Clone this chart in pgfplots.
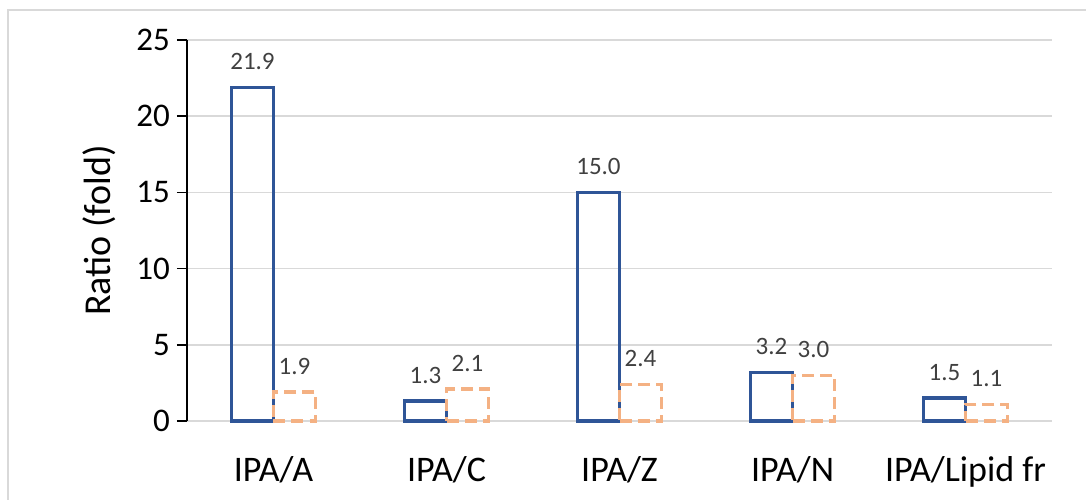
\documentclass[border=0pt]{standalone}
\usepackage{pgfplots}
\pgfplotsset{compat=1.18}
\usepackage{fontspec}
\setmainfont{Carlito}
\definecolor{barblue}{HTML}{2F5597}
\definecolor{barorange}{HTML}{F4B183}
\definecolor{gridgray}{HTML}{D9D9D9}
\definecolor{labgray}{HTML}{404040}
\begin{document}
\begin{tikzpicture}
\useasboundingbox (-93.5pt,-39pt) rectangle (449.5pt,210.5pt);
\draw[gridgray, line width=1pt] (-89.5pt,-60pt) -- (-89.5pt,205.5pt) -- (470pt,205.5pt);
\begin{axis}[
  at={(0,0)}, anchor=south west,
  scale only axis,
  width=432.5pt, height=190.5pt,
  xmin=-0.5, xmax=4.5,
  ymin=0, ymax=25,
  ytick={0,5,10,15,20,25},
  xtick={0,1,2,3,4},
  xticklabels={IPA/A,IPA/C,IPA/Z,IPA/N,IPA/Lipid fr},
  axis y line*=left,
  axis x line*=bottom,
  x axis line style={draw=gridgray, line width=0.75pt},
  y axis line style={black, line width=0.75pt},
  ymajorgrids,
  grid style={gridgray, line width=0.75pt},
  xtick style={draw=none},
  ytick style={black, line width=0.75pt},
  tick align=outside,
  major tick length=5pt,
  /pgf/number format/assume math mode=true,
  yticklabel style={font=\fontsize{16.5}{19}\selectfont, black},
  xticklabel style={font=\fontsize{18}{21}\selectfont, black, yshift=-9pt},
  ylabel={Ratio (fold)},
  ylabel style={font=\fontsize{19}{22}\selectfont, at={(axis description cs:-0.1017,0.5)}, anchor=center},
  ybar=0pt,
  bar width=21pt,
  nodes near coords,
  nodes near coords style={font=\fontsize{12.5}{14}\selectfont, text=labgray, anchor=base, yshift=9pt, /pgf/number format/.cd, fixed, fixed zerofill, precision=1},
  clip=false,
]
\addplot[draw=barblue, fill=none, line width=1.7pt] coordinates {(0,21.9) (1,1.3) (2,15.0) (3,3.2) (4,1.5)};
\addplot[draw=barorange, fill=none, line width=1.7pt, dash pattern=on 6pt off 3pt] coordinates {(0,1.9) (1,2.1) (2,2.4) (3,3.0) (4,1.1)};
\end{axis}
\end{tikzpicture}
\end{document}
